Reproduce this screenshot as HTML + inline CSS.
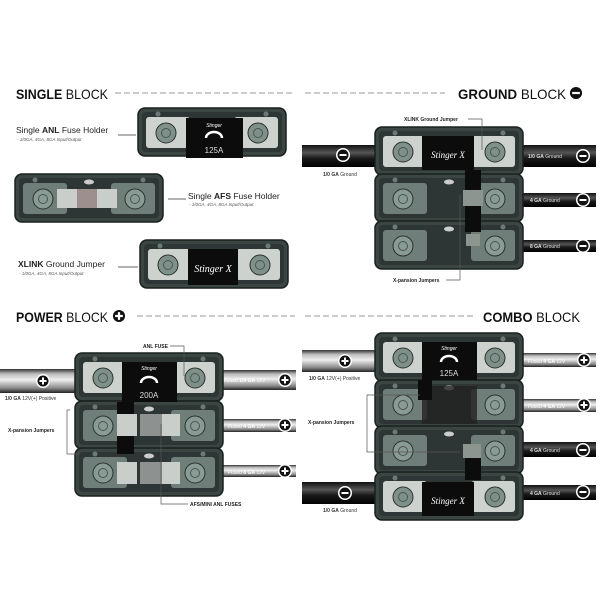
<!DOCTYPE html>
<html><head><meta charset="utf-8"><style>
html,body{margin:0;padding:0;background:#fff;}
svg{display:block;font-family:"Liberation Sans",sans-serif;}
</style></head><body>
<svg width="600" height="600" viewBox="0 0 600 600" xmlns="http://www.w3.org/2000/svg">
<defs>
<linearGradient id="silver" x1="0" y1="0" x2="0" y2="1">
<stop offset="0" stop-color="#333"/><stop offset="0.2" stop-color="#bbb"/><stop offset="0.45" stop-color="#eee"/><stop offset="0.8" stop-color="#888"/><stop offset="1" stop-color="#222"/></linearGradient>
<linearGradient id="black" x1="0" y1="0" x2="0" y2="1">
<stop offset="0" stop-color="#111"/><stop offset="0.35" stop-color="#555"/><stop offset="0.6" stop-color="#1a1a1a"/><stop offset="1" stop-color="#000"/></linearGradient>
<g id="modL">
<rect x="0" y="0" width="148" height="48" rx="7" fill="#3b4643" stroke="#1a201e" stroke-width="1.5"/>
<rect x="4" y="4" width="140" height="40" rx="4" fill="#2d3634"/>
<rect x="8" y="9" width="44" height="31" rx="3" fill="#cdd2cf"/>
<rect x="96" y="9" width="44" height="31" rx="3" fill="#cdd2cf"/>
<circle cx="28" cy="25" r="10" fill="#7f908a" stroke="#2a3230"/><circle cx="28" cy="25" r="4.5" fill="none" stroke="#4a5552"/>
<circle cx="120" cy="25" r="10" fill="#7f908a" stroke="#2a3230"/><circle cx="120" cy="25" r="4.5" fill="none" stroke="#4a5552"/>
<circle cx="20" cy="6" r="2.5" fill="#6c7a76"/><circle cx="128" cy="6" r="2.5" fill="#6c7a76"/>
</g>
<g id="modG">
<rect x="0" y="0" width="148" height="48" rx="7" fill="#3b4643" stroke="#1a201e" stroke-width="1.5"/>
<rect x="4" y="4" width="140" height="40" rx="4" fill="#2d3634"/>
<rect x="8" y="9" width="44" height="31" rx="3" fill="#6f7e79"/>
<rect x="96" y="9" width="44" height="31" rx="3" fill="#6f7e79"/>
<circle cx="28" cy="25" r="10" fill="#8a9a94" stroke="#2a3230"/><circle cx="28" cy="25" r="4.5" fill="none" stroke="#4a5552"/>
<circle cx="120" cy="25" r="10" fill="#8a9a94" stroke="#2a3230"/><circle cx="120" cy="25" r="4.5" fill="none" stroke="#4a5552"/>
<circle cx="20" cy="6" r="2.5" fill="#6c7a76"/><circle cx="128" cy="6" r="2.5" fill="#6c7a76"/>
<ellipse cx="74" cy="8" rx="5" ry="2.5" fill="#ccc"/>
</g>
<g id="plus"><circle r="7" fill="#fff"/><circle r="5.5" fill="#111"/><rect x="-3.5" y="-1" width="7" height="2" fill="#fff"/><rect x="-1" y="-3.5" width="2" height="7" fill="#fff"/></g>
<g id="minus"><circle r="7" fill="#fff"/><circle r="5.5" fill="#111"/><rect x="-3.5" y="-1" width="7" height="2" fill="#fff"/></g>
</defs>

<!-- SINGLE BLOCK -->
<text x="16" y="99" font-size="14" fill="#111" textLength="92" lengthAdjust="spacingAndGlyphs"><tspan font-weight="bold">SINGLE</tspan> BLOCK</text>
<line x1="115" y1="93" x2="293" y2="93" stroke="#999" stroke-dasharray="6,3"/>
<use href="#modL" x="138" y="108"/>
<rect x="186" y="118" width="57" height="40" fill="#0c0c0c"/>
<text x="214" y="127" font-size="5" fill="#fff" text-anchor="middle" font-style="italic">Stinger</text>
<path d="M206 138 a8 6 0 0 1 16 0" fill="none" stroke="#fff" stroke-width="2.5"/>
<text x="214" y="153" font-size="8" fill="#ddd" text-anchor="middle">125A</text>
<text x="16" y="133" font-size="8.5" fill="#222">Single <tspan font-weight="bold">ANL</tspan> Fuse Holder</text>
<text x="17" y="141" font-size="4.5" fill="#555" font-style="italic">- 1/0GA, 4GA, 8GA Input/Output</text>
<line x1="118" y1="135" x2="136" y2="135" stroke="#666"/>

<use href="#modG" x="15" y="174"/>
<rect x="57" y="189" width="60" height="19" fill="#c9cecb"/>
<rect x="77" y="189" width="20" height="19" fill="#9d8f8e"/>
<text x="188" y="199" font-size="8.5" fill="#222">Single <tspan font-weight="bold">AFS</tspan> Fuse Holder</text>
<text x="189" y="206" font-size="4.5" fill="#555" font-style="italic">- 1/0GA, 4GA, 8GA Input/Output</text>
<line x1="168" y1="199" x2="186" y2="199" stroke="#666"/>

<use href="#modL" x="140" y="240"/>
<rect x="188" y="249" width="50" height="36" fill="#0c0c0c"/>
<text x="213" y="272" font-size="10" fill="#fff" text-anchor="middle" font-style="italic" font-family="Liberation Serif,serif">Stinger X</text>
<text x="18" y="267" font-size="8.5" fill="#222"><tspan font-weight="bold">XLINK</tspan> Ground Jumper</text>
<text x="19" y="275" font-size="4.5" fill="#555" font-style="italic">- 1/0GA, 4GA, 8GA Input/Output</text>
<line x1="118" y1="267" x2="138" y2="267" stroke="#666"/>

<!-- GROUND BLOCK -->
<line x1="305" y1="93" x2="445" y2="93" stroke="#999" stroke-dasharray="6,3"/>
<text x="458" y="99" font-size="14" fill="#111" textLength="108" lengthAdjust="spacingAndGlyphs"><tspan font-weight="bold">GROUND</tspan> BLOCK</text>
<use href="#minus" transform="translate(576,93) scale(1.1)"/>
<rect x="302" y="145" width="80" height="22" fill="url(#black)"/>
<rect x="518" y="145" width="78" height="22" fill="url(#black)"/>
<rect x="518" y="193" width="78" height="14" fill="url(#black)"/>
<rect x="518" y="240" width="78" height="12" fill="url(#black)"/>
<use href="#modL" x="375" y="127"/>
<use href="#modG" x="375" y="174"/>
<use href="#modG" x="375" y="221"/>
<rect x="422" y="136" width="52" height="34" fill="#0c0c0c"/>
<text x="448" y="158" font-size="9" fill="#fff" text-anchor="middle" font-style="italic" font-family="Liberation Serif,serif">Stinger X</text>
<rect x="465" y="170" width="16" height="62" fill="#0c0c0c"/>
<rect x="463" y="190" width="20" height="16" fill="#8c9590"/>
<rect x="466" y="234" width="14" height="12" fill="#8c9590"/>
<use href="#minus" x="343" y="155"/>
<use href="#minus" x="583" y="156"/>
<use href="#minus" x="583" y="200"/>
<use href="#minus" x="583" y="246"/>
<text x="323" y="176" font-size="5" fill="#333"><tspan font-weight="bold">1/0 GA</tspan> Ground</text>
<text x="528" y="158" font-size="5" fill="#ddd"><tspan font-weight="bold">1/0 GA</tspan> Ground</text>
<text x="530" y="202" font-size="5" fill="#ddd"><tspan font-weight="bold">4 GA</tspan> Ground</text>
<text x="530" y="248" font-size="5" fill="#ddd"><tspan font-weight="bold">8 GA</tspan> Ground</text>
<text x="404" y="121" font-size="5" fill="#222" font-weight="bold">XLINK Ground Jumper</text>
<polyline points="468,119 482,119 482,150" fill="none" stroke="#555" stroke-width="0.7"/>
<text x="393" y="282" font-size="5" fill="#222" font-weight="bold">X-pansion Jumpers</text>
<polyline points="446,280 460,280 460,195" fill="none" stroke="#555" stroke-width="0.7"/>

<!-- POWER BLOCK -->
<text x="16" y="322" font-size="14" fill="#111" textLength="92" lengthAdjust="spacingAndGlyphs"><tspan font-weight="bold">POWER</tspan> BLOCK</text>
<use href="#plus" transform="translate(119,316) scale(1.1)"/>
<line x1="137" y1="316" x2="295" y2="316" stroke="#999" stroke-dasharray="6,3"/>
<rect x="0" y="369" width="82" height="24" fill="url(#silver)"/>
<rect x="218" y="370" width="78" height="20" fill="url(#silver)"/>
<rect x="218" y="419" width="78" height="13" fill="url(#silver)"/>
<rect x="218" y="465" width="78" height="12" fill="url(#silver)"/>
<use href="#modL" x="75" y="353"/>
<use href="#modG" x="75" y="401"/>
<use href="#modG" x="75" y="448"/>
<rect x="122" y="362" width="55" height="40" fill="#0c0c0c"/>
<text x="149" y="370" font-size="5" fill="#fff" text-anchor="middle" font-style="italic">Stinger</text>
<path d="M141 383 a8 6 0 0 1 16 0" fill="none" stroke="#fff" stroke-width="2.5"/>
<text x="149" y="398" font-size="8" fill="#ddd" text-anchor="middle">200A</text>
<rect x="117" y="402" width="17" height="52" fill="#0c0c0c"/>
<rect x="117" y="414" width="20" height="22" fill="#c9cecb"/>
<rect x="117" y="462" width="20" height="22" fill="#c9cecb"/>
<rect x="140" y="414" width="22" height="22" fill="#8d918f"/>
<rect x="140" y="462" width="22" height="22" fill="#8d918f"/>
<rect x="162" y="414" width="18" height="22" fill="#c9cecb"/>
<rect x="162" y="462" width="18" height="22" fill="#c9cecb"/>
<use href="#plus" x="43" y="381"/>
<use href="#plus" x="285" y="380"/>
<use href="#plus" x="285" y="425"/>
<use href="#plus" x="285" y="471"/>
<text x="5" y="400" font-size="5" fill="#333"><tspan font-weight="bold">1/0 GA</tspan> 12V(+) Positive</text>
<text x="224" y="382" font-size="5" fill="#fff"><tspan font-style="italic">Fused</tspan> <tspan font-weight="bold">1/0 GA</tspan> 12V</text>
<text x="228" y="428" font-size="5" fill="#fff"><tspan font-style="italic">Fused</tspan> <tspan font-weight="bold">4 GA</tspan> 12V</text>
<text x="228" y="474" font-size="5" fill="#fff"><tspan font-style="italic">Fused</tspan> <tspan font-weight="bold">8 GA</tspan> 12V</text>
<text x="143" y="348" font-size="5" fill="#222" font-weight="bold">ANL FUSE</text>
<polyline points="170,346 184,346 184,376" fill="none" stroke="#555" stroke-width="0.7"/>
<text x="8" y="432" font-size="5" fill="#222" font-weight="bold">X-pansion Jumpers</text>
<polyline points="70,410 67,410 67,454 80,454 M60,430 67,430" fill="none" stroke="#555" stroke-width="0.7"/>
<text x="190" y="506" font-size="5" fill="#222" font-weight="bold">AFS/MINI ANL FUSES</text>
<polyline points="188,504 161,504 161,424" fill="none" stroke="#555" stroke-width="0.7"/>

<!-- COMBO BLOCK -->
<line x1="305" y1="316" x2="475" y2="316" stroke="#999" stroke-dasharray="6,3"/>
<text x="483" y="322" font-size="14" fill="#111" textLength="97" lengthAdjust="spacingAndGlyphs"><tspan font-weight="bold">COMBO</tspan> BLOCK</text>
<rect x="302" y="350" width="80" height="22" fill="url(#silver)"/>
<rect x="302" y="482" width="80" height="22" fill="url(#black)"/>
<rect x="518" y="353" width="78" height="14" fill="url(#silver)"/>
<rect x="518" y="399" width="78" height="13" fill="url(#silver)"/>
<rect x="518" y="442" width="78" height="15" fill="url(#black)"/>
<rect x="518" y="485" width="78" height="15" fill="url(#black)"/>
<use href="#modL" x="375" y="333"/>
<use href="#modG" x="375" y="380"/>
<use href="#modG" x="375" y="426"/>
<use href="#modL" x="375" y="472"/>
<rect x="422" y="342" width="55" height="38" fill="#0c0c0c"/>
<text x="449" y="350" font-size="5" fill="#fff" text-anchor="middle" font-style="italic">Stinger</text>
<path d="M441 362 a8 6 0 0 1 16 0" fill="none" stroke="#fff" stroke-width="2.5"/>
<text x="449" y="376" font-size="8" fill="#ddd" text-anchor="middle">125A</text>
<rect x="422" y="386" width="55" height="38" fill="#222" opacity="0.8"/>
<rect x="418" y="380" width="14" height="20" fill="#0c0c0c"/>
<rect x="465" y="445" width="16" height="35" fill="#0c0c0c"/>
<rect x="463" y="444" width="18" height="14" fill="#8c9590"/>
<rect x="422" y="482" width="52" height="34" fill="#0c0c0c"/>
<text x="448" y="504" font-size="9" fill="#fff" text-anchor="middle" font-style="italic" font-family="Liberation Serif,serif">Stinger X</text>
<use href="#plus" x="345" y="361"/>
<use href="#minus" x="345" y="493"/>
<use href="#plus" x="584" y="360"/>
<use href="#plus" x="584" y="405"/>
<use href="#minus" x="583" y="450"/>
<use href="#minus" x="583" y="492"/>
<text x="309" y="380" font-size="5" fill="#333"><tspan font-weight="bold">1/0 GA</tspan> 12V(+) Positive</text>
<text x="323" y="512" font-size="5" fill="#333"><tspan font-weight="bold">1/0 GA</tspan> Ground</text>
<text x="528" y="363" font-size="5" fill="#fff"><tspan font-style="italic">Fused</tspan> <tspan font-weight="bold">4 GA</tspan> 12V</text>
<text x="528" y="408" font-size="5" fill="#fff"><tspan font-style="italic">Fused</tspan> <tspan font-weight="bold">4 GA</tspan> 12V</text>
<text x="530" y="452" font-size="5" fill="#ddd"><tspan font-weight="bold">4 GA</tspan> Ground</text>
<text x="530" y="495" font-size="5" fill="#ddd"><tspan font-weight="bold">4 GA</tspan> Ground</text>
<text x="308" y="424" font-size="5" fill="#222" font-weight="bold">X-pansion Jumpers</text>
<polyline points="420,395 367,395 367,452 460,452 M362,422 367,422" fill="none" stroke="#555" stroke-width="0.7"/>
</svg>
</body></html>
